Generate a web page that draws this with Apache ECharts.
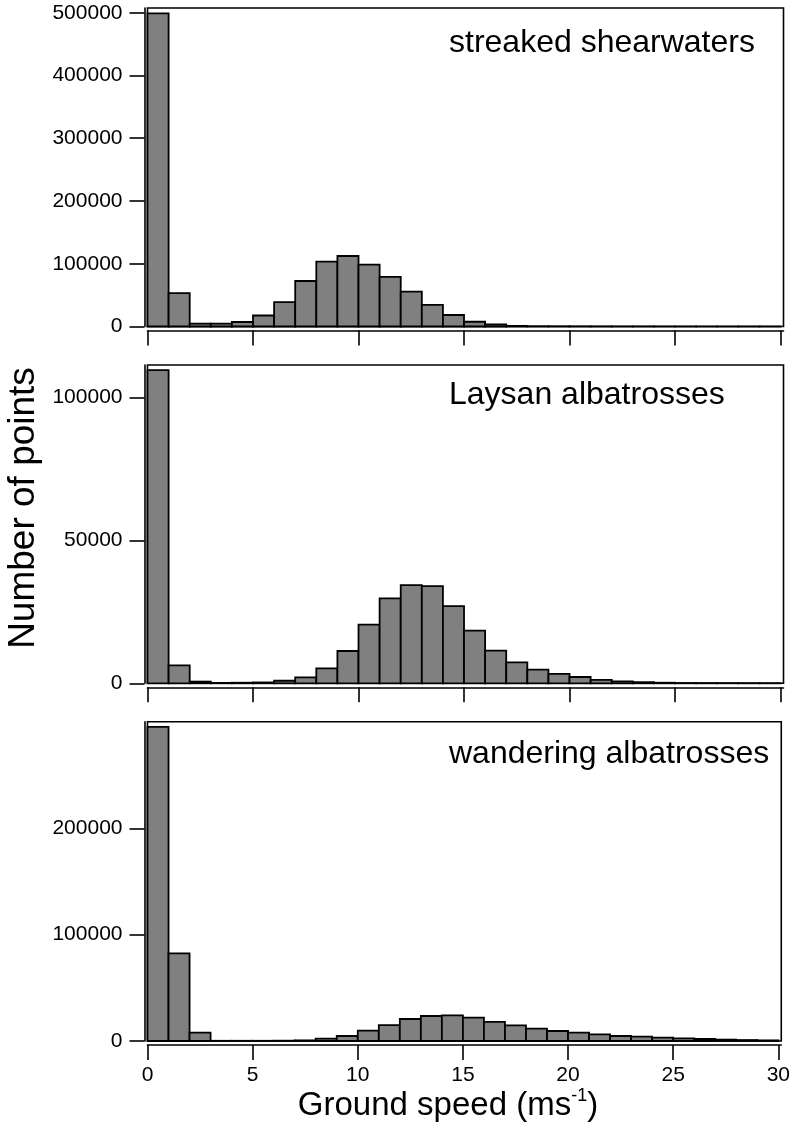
<!DOCTYPE html>
<html>
<head>
<meta charset="utf-8">
<script src="https://cdn.jsdelivr.net/npm/echarts@6/dist/echarts.min.js"></script>
<style>html,body{margin:0;padding:0;background:#fff;}#c{width:793px;height:1144px;}</style>
</head>
<body>
<div id="c"></div>
<script>
// Bin left edges (ground speed, m/s), bin width 1
const binStarts = [0,1,2,3,4,5,6,7,8,9,10,11,12,13,14,15,16,17,18,19,20,21,22,23,24,25,26,27,28,29];
const binWidth = 1;

const shearwaters = [499000, 53300, 4500, 4500, 7200, 17500, 38700, 72500, 103400, 112300, 98700, 79000, 55700, 34400, 18300, 7600, 3500, 1000, 400, 300, 200, 150, 100, 100, 80, 60, 50, 40, 30, 20];
const laysan = [109500, 6300, 600, 150, 200, 300, 900, 2100, 5200, 11300, 20500, 29700, 34300, 34000, 27000, 18400, 11400, 7300, 4800, 3300, 2200, 1200, 700, 400, 200, 100, 80, 50, 30, 20];
const wandering = [295500, 82400, 7800, 200, 200, 200, 300, 600, 2200, 4700, 9700, 15000, 20700, 23500, 24100, 21900, 17900, 14700, 11600, 9400, 7800, 6300, 4700, 4100, 3100, 2500, 1900, 1300, 900, 600];

const panelTitles = ['streaked shearwaters', 'Laysan albatrosses', 'wandering albatrosses'];
const xTicks = [0, 5, 10, 15, 20, 25, 30];
const yTicks1 = [0, 100000, 200000, 300000, 400000, 500000];
const yTicks2 = [0, 50000, 100000];
const yTicks3 = [0, 100000, 200000];
const yAxisTitle = 'Number of points';
const xAxisTitle = 'Ground speed (ms{sup|-1})';

const FONT = "'Liberation Sans', Arial, Helvetica, sans-serif";
const seriesData = [shearwaters, laysan, wandering];
const yTickSets = [yTicks1, yTicks2, yTicks3];
const yMax = [507500, 111300, 300300];
const grids = [
  {top: 8, height: 318.5},
  {top: 365, height: 318.3},
  {top: 721.7, height: 319.3}
];
const titleY = [43, 395, 754];

function renderItem(params, api) {
  const x0 = api.value(0), x1 = api.value(1), v = api.value(2);
  const p0 = api.coord([x0, v]);
  const p1 = api.coord([x1, 0]);
  return {
    type: 'rect',
    shape: {x: p0[0], y: p0[1], width: p1[0] - p0[0], height: p1[1] - p0[1]},
    style: {fill: '#808080', stroke: '#000', lineWidth: 1.8}
  };
}

const axisLineStyle = {color: '#000', width: 1.6};

const option = {
  animation: false,
  backgroundColor: '#fff',
  grid: grids.map(g => ({
    left: 147.5, width: 636, top: g.top, height: g.height,
    show: true, borderColor: '#000', borderWidth: 1.6, backgroundColor: 'transparent'
  })),
  xAxis: grids.map((g, i) => ({
    gridIndex: i, type: 'value', min: 0, max: 30.14, position: 'bottom', offset: 4,
    axisLine: {show: true, onZero: false, lineStyle: axisLineStyle},
    axisTick: {show: true, length: 15, customValues: xTicks, lineStyle: axisLineStyle},
    axisLabel: {show: i === 2, customValues: xTicks, margin: 20, fontSize: 21, color: '#000', fontFamily: FONT,
      formatter: v => String(v)},
    splitLine: {show: false}
  })),
  yAxis: grids.map((g, i) => ({
    gridIndex: i, type: 'value', min: 0, max: yMax[i], offset: 3,
    axisLine: {show: true, onZero: false, lineStyle: axisLineStyle},
    axisTick: {show: true, length: 15, customValues: yTickSets[i], lineStyle: axisLineStyle},
    axisLabel: {customValues: yTickSets[i], margin: 22, fontSize: 21, color: '#000', fontFamily: FONT,
      formatter: v => String(v)},
    splitLine: {show: false}
  })),
  series: seriesData.map((vals, i) => ({
    type: 'custom',
    xAxisIndex: i, yAxisIndex: i,
    renderItem: renderItem,
    encode: {x: [0, 1], y: 2},
    data: binStarts.map((b, k) => [b, b + binWidth, vals[k]])
  })),
  graphic: panelTitles.map((t, i) => ({
    type: 'text', x: 449, y: titleY[i],
    style: {text: t, font: '32px ' + FONT, fill: '#000', textAlign: 'left', textVerticalAlign: 'middle'}
  })).concat([
    {type: 'text', x: 24, y: 508, rotation: Math.PI / 2,
      style: {text: yAxisTitle, font: '37px ' + FONT, fill: '#000', textAlign: 'center', textVerticalAlign: 'middle'}},
    {type: 'text', x: 448, y: 1106,
      style: {text: xAxisTitle, fontSize: 33, fontFamily: FONT, fill: '#000', textAlign: 'center', textVerticalAlign: 'middle', lineHeight: 38,
        rich: {sup: {fontSize: 18, fontFamily: FONT, fill: '#000', verticalAlign: 'top', lineHeight: 38}}}}
  ])
};

const chart = echarts.init(document.getElementById('c'), null, {renderer: 'canvas'});
chart.setOption(option);
</script>
</body>
</html>
